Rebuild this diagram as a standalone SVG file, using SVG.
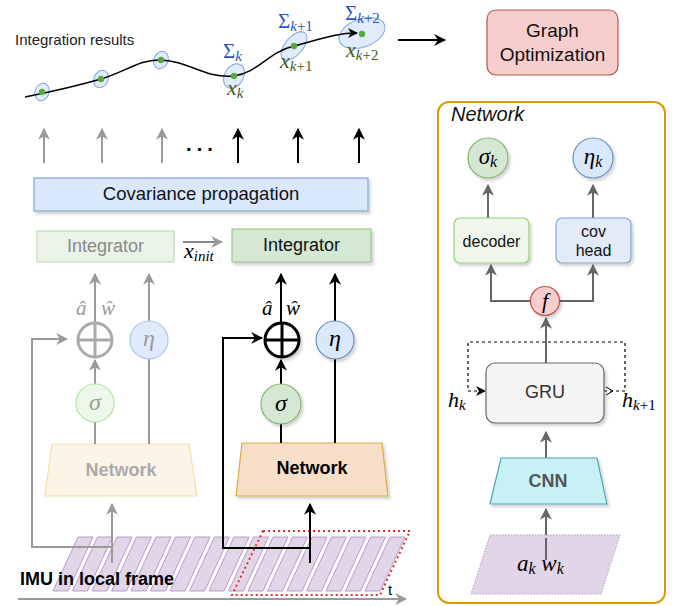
<svg xmlns="http://www.w3.org/2000/svg" width="677" height="606" viewBox="0 0 677 606">
<defs>
<style>
.sans{font-family:"Liberation Sans",Arial,sans-serif}
.math{font-family:"Liberation Serif","DejaVu Serif",serif;font-style:italic}
.up{font-style:normal}
.gl{stroke:#9a9a9a;stroke-width:2;fill:none}
.bl{stroke:#000;stroke-width:2;fill:none}
.dl{stroke:#666;stroke-width:2;fill:none}
.ell{fill:#dae8fc;fill-opacity:0.85;stroke:#7ea6e0;stroke-width:1}
.dot{fill:#5aa83a}
.stripe{fill:#e1d5e7;stroke:#a68bbb;stroke-width:0.8}
.sig{fill:#1f55c0}
.xg{fill:#3d5c1e}
</style>
<marker id="ag" viewBox="0 0 10 10" refX="9" refY="5" markerWidth="12" markerHeight="12" markerUnits="userSpaceOnUse" orient="auto"><path d="M0,0 L10,5 L0,10 L3,5 z" fill="#9a9a9a"/></marker>
<marker id="ab" viewBox="0 0 10 10" refX="9" refY="5" markerWidth="12" markerHeight="12" markerUnits="userSpaceOnUse" orient="auto"><path d="M0,0 L10,5 L0,10 L3,5 z" fill="#000"/></marker>
<marker id="ad" viewBox="0 0 10 10" refX="9" refY="5" markerWidth="12" markerHeight="12" markerUnits="userSpaceOnUse" orient="auto"><path d="M0,0 L10,5 L0,10 L3,5 z" fill="#666"/></marker>
<marker id="abs" viewBox="0 0 10 10" refX="9" refY="5" markerWidth="10" markerHeight="10" markerUnits="userSpaceOnUse" orient="auto"><path d="M0,0 L10,5 L0,10 L3,5 z" fill="#000"/></marker>
<filter id="sh" x="-20%" y="-20%" width="140%" height="160%"><feDropShadow dx="2" dy="2.5" stdDeviation="1.5" flood-color="#000" flood-opacity="0.18"/></filter>
</defs>
<rect width="677" height="606" fill="#fff"/>

<g id="trajectory">
<text x="15" y="45" class="sans" font-size="15" fill="#222">Integration results</text>
<ellipse class="ell" cx="42" cy="92" rx="7" ry="9" transform="rotate(20 42 92)"/>
<ellipse class="ell" cx="101" cy="79" rx="7" ry="9" transform="rotate(25 101 79)"/>
<ellipse class="ell" cx="161" cy="60" rx="7" ry="9" transform="rotate(25 161 60)"/>
<ellipse class="ell" cx="234" cy="76" rx="9.5" ry="13" transform="rotate(30 234 76)"/>
<ellipse class="ell" cx="294" cy="46" rx="9" ry="17" transform="rotate(40 294 46)"/>
<ellipse class="ell" cx="362" cy="33" rx="24" ry="14" transform="rotate(-20 362 33)"/>
<path d="M25,97 C50,92 80,85 101,79 C125,72 140,59 161,60 C190,61 205,79 234,76 C258,73 268,52 294,46 C318,40 335,33 357,33" fill="none" stroke="#000" stroke-width="1.5" marker-end="url(#abs)"/>
<circle class="dot" cx="42" cy="92" r="3.2"/>
<circle class="dot" cx="101" cy="79" r="3.2"/>
<circle class="dot" cx="161" cy="60" r="3.2"/>
<circle class="dot" cx="234" cy="76" r="3.2"/>
<circle class="dot" cx="294" cy="46" r="3.2"/>
<circle class="dot" cx="362" cy="34" r="3.2"/>
<text x="223" y="58" class="math sig" font-size="21"><tspan class="up">Σ</tspan><tspan font-size="15" dy="3">k</tspan></text>
<text x="278" y="28" class="math sig" font-size="21"><tspan class="up">Σ</tspan><tspan font-size="15" dy="3">k</tspan><tspan class="up" font-size="15">+1</tspan></text>
<text x="345" y="20" class="math sig" font-size="21"><tspan class="up">Σ</tspan><tspan font-size="15" dy="3">k</tspan><tspan class="up" font-size="15">+2</tspan></text>
<text x="227" y="95" class="math xg" font-size="22">x<tspan font-size="15" dy="3">k</tspan></text>
<text x="280" y="68" class="math xg" font-size="22">x<tspan font-size="15" dy="3">k</tspan><tspan class="up" font-size="15">+1</tspan></text>
<text x="346" y="57" class="math xg" font-size="22">x<tspan font-size="15" dy="3">k</tspan><tspan class="up" font-size="15">+2</tspan></text>
</g>

<g id="graph-optimization">
<rect x="487" y="10" width="131" height="65" rx="9" fill="#f8cecc" stroke="#b85450" stroke-width="1.2"/>
<text x="552.5" y="37" class="sans" font-size="19" text-anchor="middle" fill="#111">Graph</text>
<text x="552.5" y="61" class="sans" font-size="19" text-anchor="middle" fill="#111">Optimization</text>
</g>

<g id="covariance">
<rect x="34" y="178" width="334" height="33" fill="#dae8fc" stroke="#8aa6d2" stroke-width="1.2" filter="url(#sh)"/>
<text x="201" y="200" class="sans" font-size="18.5" text-anchor="middle" fill="#111">Covariance propagation</text>
</g>

<g id="integrator-faded">
<rect x="37" y="231" width="137" height="31" fill="#e9f3e7" stroke="#bfe0b5" stroke-width="1.2"/>
<text x="105.5" y="252" class="sans" font-size="18" text-anchor="middle" fill="#8a8a8a">Integrator</text>
</g>
<g id="integrator">
<rect x="232" y="229" width="139" height="33" fill="#d5e8d4" stroke="#9cc98a" stroke-width="1.2" filter="url(#sh)"/>
<text x="301.5" y="251" class="sans" font-size="18" text-anchor="middle" fill="#111">Integrator</text>
</g>

<g id="network-faded">
<polygon points="52,444 189,444 197,496 45,496" fill="#fdf4e8" stroke="#f4dfa6" stroke-width="1.2"/>
<text x="121" y="476" class="sans" font-size="18" font-weight="bold" text-anchor="middle" fill="#aaaaaa">Network</text>
</g>
<g id="network">
<polygon points="242,443 382,443 388,496 236,496" fill="#f7dfc7" stroke="#dcaa45" stroke-width="1.2" filter="url(#sh)"/>
<text x="312" y="474" class="sans" font-size="18" font-weight="bold" text-anchor="middle" fill="#000">Network</text>
</g>

<g id="imu">
<polygon class="stripe" points="78,537 93,537 68,591 53,591"/>
<polygon class="stripe" points="97.5,537 112.5,537 87.5,591 72.5,591"/>
<polygon class="stripe" points="117,537 132,537 107,591 92,591"/>
<polygon class="stripe" points="136.5,537 151.5,537 126.5,591 111.5,591"/>
<polygon class="stripe" points="156,537 171,537 146,591 131,591"/>
<polygon class="stripe" points="175.5,537 190.5,537 165.5,591 150.5,591"/>
<polygon class="stripe" points="195,537 210,537 185,591 170,591"/>
<polygon class="stripe" points="214.5,537 229.5,537 204.5,591 189.5,591"/>
<polygon class="stripe" points="234,537 249,537 224,591 209,591"/>
<polygon class="stripe" points="253.5,537 268.5,537 243.5,591 228.5,591"/>
<polygon class="stripe" points="273,537 288,537 263,591 248,591"/>
<polygon class="stripe" points="292.5,537 307.5,537 282.5,591 267.5,591"/>
<polygon class="stripe" points="312,537 327,537 302,591 287,591"/>
<polygon class="stripe" points="331.5,537 346.5,537 321.5,591 306.5,591"/>
<polygon class="stripe" points="351,537 366,537 341,591 326,591"/>
<polygon class="stripe" points="370.5,537 385.5,537 360.5,591 345.5,591"/>
<polygon class="stripe" points="390,537 405,537 380,591 365,591"/>
<polygon points="263,531 410,531 380,595 232,595" fill="none" stroke="#e02b2b" stroke-width="2" stroke-dasharray="2,3"/>
<text x="20" y="585" class="sans" font-size="18" font-weight="bold" fill="#000">IMU in local frame</text>
<line x1="18" y1="599" x2="406" y2="599" stroke="#9a9a9a" stroke-width="2" marker-end="url(#ag)"/>
<text x="388" y="595" class="sans" font-size="15" fill="#000">t</text>
</g>

<g id="connectors">
<line class="gl" x1="44" y1="163" x2="44" y2="129" marker-end="url(#ag)"/>
<line class="gl" x1="102" y1="163" x2="102" y2="129" marker-end="url(#ag)"/>
<line class="gl" x1="162" y1="163" x2="162" y2="129" marker-end="url(#ag)"/>
<line class="bl" x1="238" y1="163" x2="238" y2="129" marker-end="url(#ab)"/>
<line class="bl" x1="298" y1="163" x2="298" y2="129" marker-end="url(#ab)"/>
<line class="bl" x1="359" y1="163" x2="359" y2="129" marker-end="url(#ab)"/>
<line x1="183" y1="242" x2="222" y2="242" stroke="#888" stroke-width="2" marker-end="url(#ag)"/>
<line class="gl" x1="95" y1="323" x2="95" y2="274" marker-end="url(#ag)"/>
<line class="gl" x1="149" y1="444" x2="149" y2="274" marker-end="url(#ag)"/>
<line class="gl" x1="95" y1="444" x2="95" y2="420"/>
<line class="gl" x1="95" y1="384" x2="95" y2="360" marker-end="url(#ag)"/>
<polyline class="gl" points="112,563 112,547 32,547 32,339 67,339" marker-end="url(#ag)"/>
<line class="gl" x1="112" y1="563" x2="112" y2="504" marker-end="url(#ag)"/>
<line class="bl" x1="281" y1="323" x2="281" y2="274" marker-end="url(#ab)"/>
<line class="bl" x1="335" y1="443" x2="335" y2="274" marker-end="url(#ab)"/>
<line class="bl" x1="281" y1="443" x2="281" y2="420"/>
<line class="bl" x1="281" y1="384" x2="281" y2="360" marker-end="url(#ab)"/>
<polyline class="bl" points="310,563 310,548 223,548 223,338 262,338" marker-end="url(#ab)"/>
<line class="bl" x1="310" y1="563" x2="310" y2="504" marker-end="url(#ab)"/>
<line class="bl" x1="398" y1="40" x2="445" y2="40" marker-end="url(#ab)"/>
<line class="dl" x1="488" y1="218" x2="488" y2="185" marker-end="url(#ad)"/>
<line class="dl" x1="593" y1="218" x2="593" y2="185" marker-end="url(#ad)"/>
<polyline class="dl" points="531,301 491,301 491,265" marker-end="url(#ad)"/>
<polyline class="dl" points="559,301 593,301 593,265" marker-end="url(#ad)"/>
<line class="dl" x1="546" y1="363" x2="546" y2="318" marker-end="url(#ad)"/>
<line class="dl" x1="546" y1="458" x2="546" y2="432" marker-end="url(#ad)"/>
<line class="dl" x1="546" y1="560" x2="546" y2="509" marker-end="url(#ad)"/>
<polyline points="604,391 625,391 625,342 468,342 468,391 485,391" fill="none" stroke="#000" stroke-width="1.2" stroke-dasharray="3,3" marker-end="url(#abs)"/>
<polyline points="606,387 613,391 606,395" fill="none" stroke="#000" stroke-width="1"/>
</g>

<g id="plus-faded">
<circle cx="95" cy="340" r="17" fill="#fff" stroke="#aaaaaa" stroke-width="3"/>
<line x1="95" y1="323" x2="95" y2="357" stroke="#aaaaaa" stroke-width="3"/>
<line x1="78" y1="340" x2="112" y2="340" stroke="#aaaaaa" stroke-width="3"/>
<text x="76" y="315" class="math" font-size="21" fill="#9a9a9a">â</text>
<text x="101" y="315" class="math" font-size="21" fill="#9a9a9a">ŵ</text>
</g>
<g id="sigma-faded">
<circle cx="95" cy="403" r="19" fill="#eef8ea" stroke="#b5e3a3" stroke-width="1.2"/>
<text x="95" y="410" class="math" font-size="24" text-anchor="middle" fill="#9a9a9a">σ</text>
</g>
<g id="eta-faded">
<circle cx="149" cy="340" r="19" fill="#dfeafd" stroke="#a9c8f0" stroke-width="1.2"/>
<text x="149" y="346" class="math" font-size="24" text-anchor="middle" fill="#9a9a9a">η</text>
</g>

<g id="plus">
<circle cx="282" cy="340" r="17" fill="#fff" stroke="#000" stroke-width="3" filter="url(#sh)"/>
<line x1="282" y1="323" x2="282" y2="357" stroke="#000" stroke-width="3"/>
<line x1="265" y1="340" x2="299" y2="340" stroke="#000" stroke-width="3"/>
<text x="262" y="315" class="math" font-size="21" fill="#000">â</text>
<text x="286" y="315" class="math" font-size="21" fill="#000">ŵ</text>
</g>
<g id="sigma">
<circle cx="281" cy="404" r="20" fill="#d5e8d4" stroke="#82b366" stroke-width="1.2" filter="url(#sh)"/>
<text x="281" y="411" class="math" font-size="24" text-anchor="middle" fill="#000">σ</text>
</g>
<g id="eta">
<circle cx="335" cy="340" r="19" fill="#dae8fc" stroke="#6c8ebf" stroke-width="1.2" filter="url(#sh)"/>
<text x="335" y="346" class="math" font-size="24" text-anchor="middle" fill="#000">η</text>
</g>

<text x="184" y="258" class="math" font-size="22" fill="#000">x<tspan font-size="15" dy="3">init</tspan></text>
<text x="186" y="156" class="sans" font-size="20" font-weight="bold" fill="#000" letter-spacing="4">···</text>

<g id="network-panel">
<rect x="438" y="102" width="227" height="501" rx="11" fill="none" stroke="#d79b00" stroke-width="2"/>
<text x="451" y="121" class="sans" font-size="20" font-style="italic" fill="#111">Network</text>
</g>
<g id="sigma-k">
<circle cx="488" cy="158" r="20" fill="#d5e8d4" stroke="#82b366" stroke-width="1.2" filter="url(#sh)"/>
<text x="488" y="164" class="math" font-size="23" text-anchor="middle" fill="#000">σ<tspan font-size="16" dy="3">k</tspan></text>
</g>
<g id="eta-k">
<circle cx="593" cy="158" r="20" fill="#dae8fc" stroke="#6c8ebf" stroke-width="1.2" filter="url(#sh)"/>
<text x="593" y="164" class="math" font-size="23" text-anchor="middle" fill="#000">η<tspan font-size="16" dy="3">k</tspan></text>
</g>
<g id="decoder">
<rect x="454" y="218" width="75" height="45" rx="6" fill="#eef7ea" stroke="#97d077" stroke-width="1.2" filter="url(#sh)"/>
<text x="491.5" y="247" class="sans" font-size="16" text-anchor="middle" fill="#111">decoder</text>
</g>
<g id="cov-head">
<rect x="556" y="218" width="75" height="45" rx="6" fill="#e2ebf7" stroke="#7ea6d8" stroke-width="1.2" filter="url(#sh)"/>
<text x="593.5" y="237" class="sans" font-size="16" text-anchor="middle" fill="#111">cov</text>
<text x="593.5" y="256" class="sans" font-size="16" text-anchor="middle" fill="#111">head</text>
</g>
<g id="f">
<circle cx="545" cy="301" r="14.5" fill="#f8cecc" stroke="#b85450" stroke-width="1.2" filter="url(#sh)"/>
<text x="545" y="308" class="math" font-size="22" text-anchor="middle" fill="#000">f</text>
</g>
<g id="gru">
<rect x="486" y="363" width="118" height="60" rx="9" fill="#f5f5f5" stroke="#666" stroke-width="1.2" filter="url(#sh)"/>
<text x="545" y="398" class="sans" font-size="18" text-anchor="middle" fill="#333">GRU</text>
</g>
<text x="448" y="407" class="math" font-size="22" fill="#000">h<tspan font-size="15" dy="3">k</tspan></text>
<text x="622" y="407" class="math" font-size="22" fill="#000">h<tspan font-size="15" dy="3">k</tspan><tspan class="up" font-size="15">+1</tspan></text>
<g id="cnn">
<polygon points="501,458 597,458 607,504 490,504" fill="#c7f1f5" stroke="#4fa8b3" stroke-width="1.2" filter="url(#sh)"/>
<text x="548" y="487" class="sans" font-size="18" font-weight="bold" text-anchor="middle" fill="#555">CNN</text>
</g>
<g id="input">
<polygon points="490,535 620,535 601,594 471,594" fill="#e1d5e7" stroke="#b59bc8" stroke-width="1" stroke-dasharray="1.5,1.5"/>
<line class="dl" x1="546" y1="560" x2="546" y2="538"/>
<text x="517" y="571" class="math" font-size="23" fill="#000">a<tspan font-size="16" dy="3">k</tspan><tspan dy="-3"> w</tspan><tspan font-size="16" dy="3">k</tspan></text>
</g>
</svg>
